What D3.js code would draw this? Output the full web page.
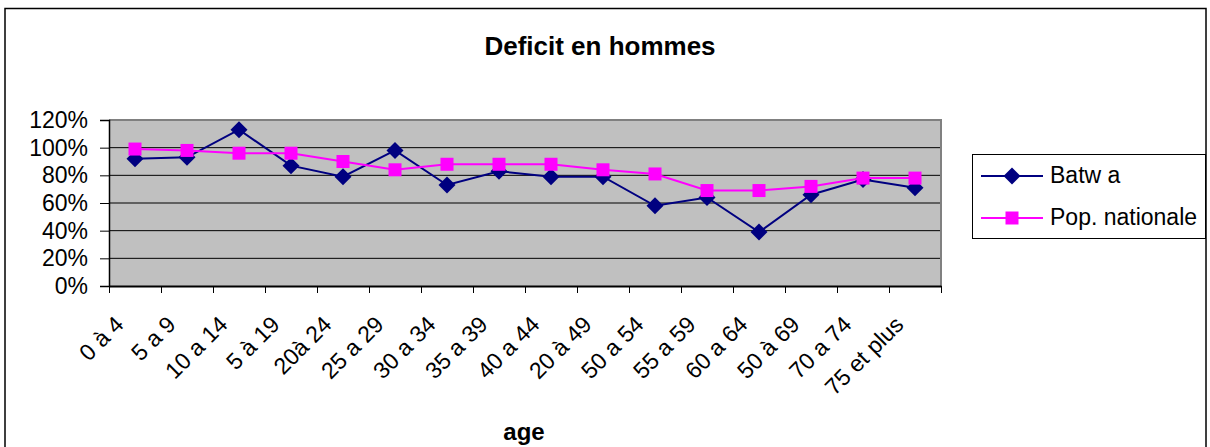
<!DOCTYPE html>
<html>
<head>
<meta charset="utf-8">
<script src="https://cdn.jsdelivr.net/npm/d3@7"></script>
<style>
  body { margin: 0; background: #fff; }
  svg { display: block; font-family: "Liberation Sans", Arial, sans-serif; }
</style>
</head>
<body>
<script>
// data
var categories = ["0 à 4", "5 a 9", "10 a 14", "5 à 19", "20à 24", "25 a 29", "30 a 34", "35 a 39",
                  "40 a 44", "20 à 49", "50 a 54", "55 a 59", "60 a 64", "50 à 69", "70 a 74", "75 et plus"];
var batwa = [0.92, 0.93, 1.13, 0.87, 0.79, 0.98, 0.73, 0.83, 0.79, 0.79, 0.58, 0.64, 0.39, 0.66, 0.77, 0.71];
var popNationale = [0.99, 0.98, 0.96, 0.96, 0.90, 0.84, 0.88, 0.88, 0.88, 0.84, 0.81, 0.69, 0.69, 0.72, 0.78, 0.78];
var yTicks = [0, 0.2, 0.4, 0.6, 0.8, 1.0, 1.2];
var seriesNames = ["Batw a", "Pop. nationale"];

// Chart basic vars
var width = 1210, height = 447,
    plot = {left: 109, right: 941, top: 120, bottom: 286};

var svg = d3.select("body").append("svg")
    .attr("width", width)
    .attr("height", height);

// outer chart border
svg.append("rect")
    .attr("x", 5).attr("y", 8.5)
    .attr("width", 1201).attr("height", 460)
    .attr("fill", "#fff")
    .attr("stroke", "#000")
    .attr("stroke-width", 1.5);

// scales
var x = d3.scaleBand()
        .domain(categories)
        .range([plot.left, plot.right])
        .padding(0),
    xEdge = d3.scaleLinear()
        .domain([0, categories.length])
        .range([plot.left, plot.right]),
    y = d3.scaleLinear()
        .domain([0, 1.2])
        .range([plot.bottom, plot.top]);

// plot background
svg.append("rect")
    .attr("x", plot.left).attr("y", plot.top)
    .attr("width", plot.right - plot.left)
    .attr("height", plot.bottom - plot.top)
    .attr("fill", "#c0c0c0");

// gridlines
svg.selectAll(".grid")
        .data(yTicks.filter(function(d) { return d > 0 && d < 1.2; }))
    .enter().append("line")
    .attr("x1", plot.left).attr("x2", plot.right)
    .attr("y1", function(d) { return y(d); })
    .attr("y2", function(d) { return y(d); })
    .attr("stroke", "#000")
    .attr("stroke-width", 1);

// gray plot frame top & right
svg.append("path")
    .attr("d", "M" + plot.left + "," + plot.top + "H" + plot.right + "V" + plot.bottom)
    .attr("fill", "none")
    .attr("stroke", "#808080")
    .attr("stroke-width", 2);

// axes
var yAxis = d3.axisLeft(y)
    .tickValues(yTicks)
    .tickFormat(d3.format(".0%"))
    .tickSize(9)
    .tickPadding(12);
var gy = svg.append("g")
    .attr("transform", "translate(" + plot.left + ",0)")
    .call(yAxis);
gy.select(".domain").attr("stroke", "#000").attr("stroke-width", 1.5);
gy.selectAll("text").attr("font-size", 23).attr("fill", "#000").attr("font-family", "Liberation Sans, Arial, sans-serif");

var xAxis = d3.axisBottom(xEdge)
    .tickValues(d3.range(categories.length + 1))
    .tickFormat("")
    .tickSize(7)
    .tickSizeOuter(0);
var gx = svg.append("g")
    .attr("transform", "translate(0," + plot.bottom + ")")
    .call(xAxis);
gx.select(".domain").attr("stroke", "#000").attr("stroke-width", 2);

// rotated category labels
svg.selectAll(".xlabel")
        .data(categories)
    .enter().append("text")
    .attr("class", "xlabel")
    .attr("transform", function(d) {
        return "translate(" + (x(d) + x.bandwidth() / 2 - 10) + ",326) rotate(-45)";
    })
    .attr("text-anchor", "end")
    .attr("font-size", 23)
    .text(function(d) { return d; });

// lines and markers
var line = d3.line()
    .x(function(d, i) { return x(categories[i]) + x.bandwidth() / 2; })
    .y(function(d) { return y(d); });

function drawSeries(values, color, marker) {
    svg.append("path")
        .datum(values)
        .attr("d", line)
        .attr("fill", "none")
        .attr("stroke", color)
        .attr("stroke-width", 2);
    svg.selectAll(null)
            .data(values)
        .enter().append("path")
        .attr("transform", function(d, i) {
            return "translate(" + (x(categories[i]) + x.bandwidth() / 2) + "," + y(d) + ")";
        })
        .attr("d", marker)
        .attr("fill", color);
}

var diamond = "M0,-8.5L8.5,0L0,8.5L-8.5,0Z",
    square = "M-6.5,-6.5H6.5V6.5H-6.5Z";

drawSeries(batwa, "#000080", diamond);
drawSeries(popNationale, "#ff00ff", square);

// title
svg.append("text")
    .attr("x", 600).attr("y", 55)
    .attr("text-anchor", "middle")
    .attr("font-size", 26)
    .attr("font-weight", "bold")
    .text("Deficit en hommes");

// x axis title
svg.append("text")
    .attr("x", 524).attr("y", 440)
    .attr("text-anchor", "middle")
    .attr("font-size", 24)
    .attr("font-weight", "bold")
    .text("age");

// legend
var legend = svg.append("g");
legend.append("rect")
    .attr("x", 972.5).attr("y", 154.5)
    .attr("width", 233).attr("height", 84)
    .attr("fill", "#fff")
    .attr("stroke", "#000")
    .attr("stroke-width", 1);

var legendItems = [
    {name: seriesNames[0], color: "#000080", marker: diamond, y: 176},
    {name: seriesNames[1], color: "#ff00ff", marker: square, y: 218}
];
legendItems.forEach(function(d) {
    legend.append("line")
        .attr("x1", 981).attr("x2", 1043)
        .attr("y1", d.y).attr("y2", d.y)
        .attr("stroke", d.color)
        .attr("stroke-width", 2);
    legend.append("path")
        .attr("transform", "translate(1012," + d.y + ")")
        .attr("d", d.marker)
        .attr("fill", d.color);
    legend.append("text")
        .attr("x", 1050).attr("y", d.y + 7)
        .attr("font-size", 23)
        .text(d.name);
});
</script>
</body>
</html>
